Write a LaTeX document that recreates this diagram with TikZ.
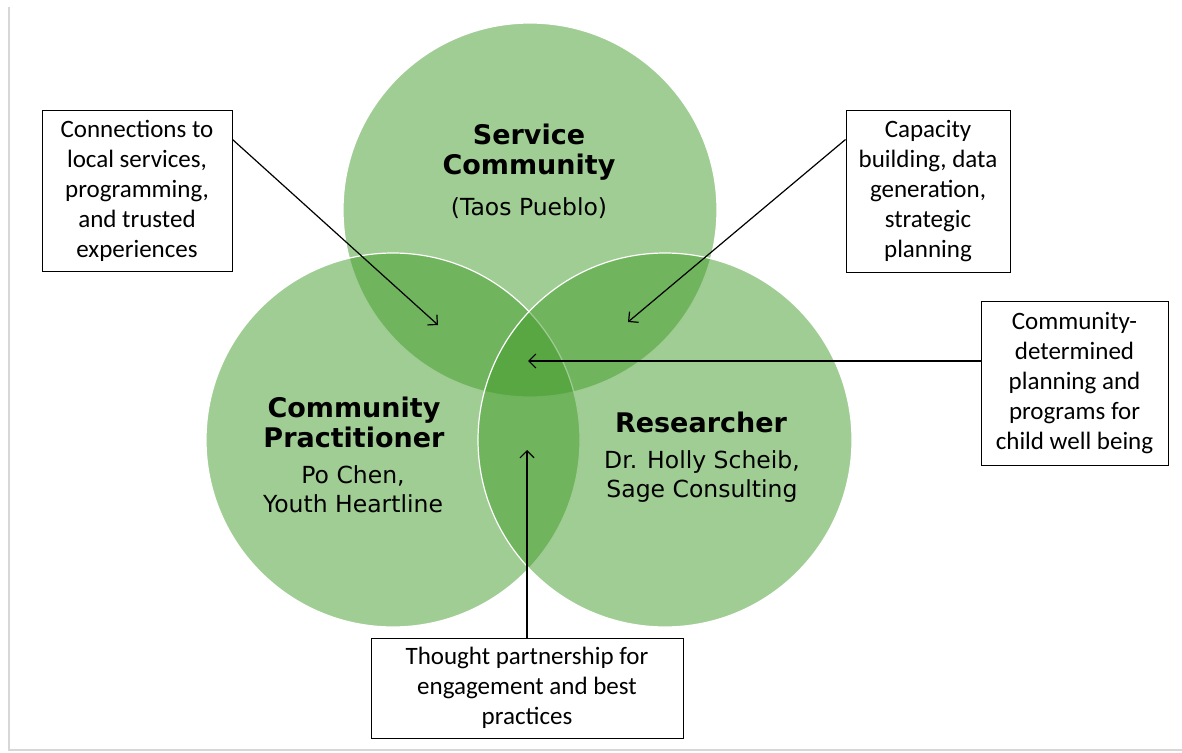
\documentclass[tikz,border=0pt]{standalone}
\usepackage{fontspec}
\setmainfont{Carlito}
\newfontfamily\vennfont{DejaVu Sans}
\usetikzlibrary{arrows.meta}
\definecolor{venngreen}{RGB}{65,155,41}
\definecolor{framegray}{RGB}{215,215,215}

\begin{document}
\begin{tikzpicture}[x=1pt, y=-1pt,
  set/.style={circle, fill=venngreen, fill opacity=0.5, draw=white, line width=1.2pt, minimum size=374pt, inner sep=0pt},
  note/.style={draw=black, line width=1pt, fill=white, align=center, inner sep=0pt, font=\fontsize{25}{30}\selectfont},
  head/.style={align=center, font=\vennfont\bfseries\fontsize{27}{30}\selectfont},
  sub/.style={align=center, font=\vennfont\fontsize{23.5}{29}\selectfont},
  pointer/.style={-{Straight Barb[length=7pt,width=14pt]}, line width=1.2pt}
]
\useasboundingbox (0,0) rectangle (1182,752);
\draw[framegray, line width=1.5pt] (9,7) -- (9,750) -- (1182,750);

% the three sets
\node[set] (service) at (530,210) {};
\node[set] (practitioner) at (393,440) {};
\node[set] (researcher) at (665,440) {};

\node[head] (servicehead) at (529,152) {Service\\Community};
\node[sub] (servicesub) at (529,208) {(Taos Pueblo)};
\node[head] (practhead) at (354,422) {Community\\Practitioner};
\node[sub] (practsub) at (353,489) {Po Chen,\\Youth Heartline};
\node[head] (researchhead) at (701,422) {Researcher};
\node[sub] (researchsub) at (702,477) {Dr. Holly Scheib,\\Sage Consulting};

% notes
\node[note, minimum width=190pt, minimum height=161pt] (connections) at (137,190.5)
  {Connections to\\local services,\\programming,\\and trusted\\experiences};
\node[note, minimum width=164pt, minimum height=162pt] (capacity) at (928,191)
  {Capacity\\building, data\\generation,\\strategic\\planning};
\node[note, minimum width=187pt, minimum height=164pt] (determined) at (1074.5,383)
  {Community-\\determined\\planning and\\programs for\\child well being};
\node[note, minimum width=312pt, minimum height=100pt] (thought) at (527,688)
  {Thought partnership for\\engagement and best\\practices};

\coordinate (spLens) at (438,325);
\coordinate (srLens) at (628,322);
\coordinate (allLens) at (528,361);
\coordinate (prLens) at (527,450);

\draw[pointer] ([yshift=-30pt]connections.north east) -- (spLens);
\draw[pointer] ([yshift=-30pt]capacity.north west) -- (srLens);
\draw[pointer] ([yshift=22pt]determined.west) -- (allLens);
\draw[pointer] (thought.north) -- (prLens);
\end{tikzpicture}
\end{document}
